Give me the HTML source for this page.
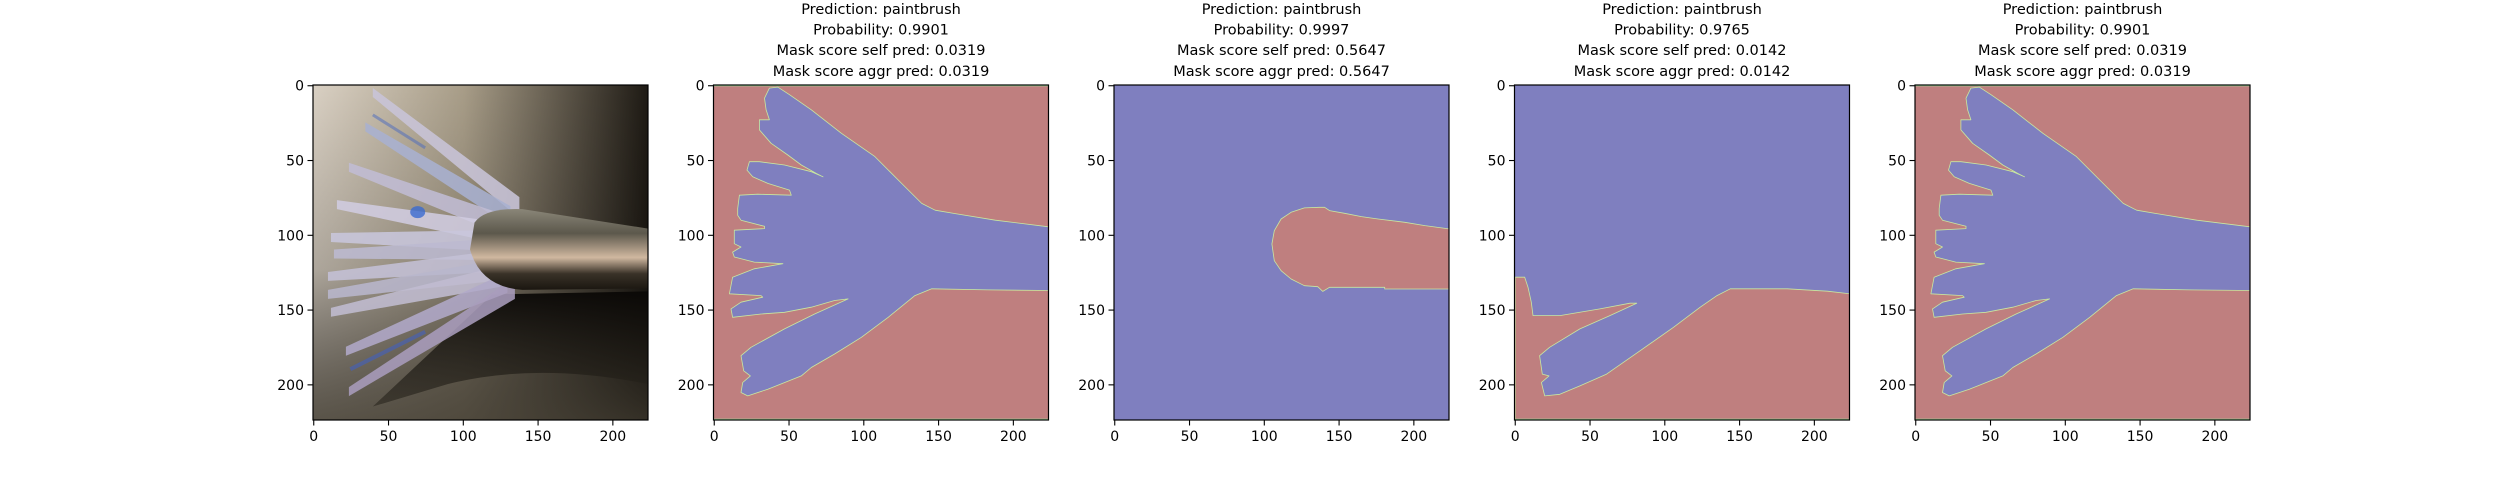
<!DOCTYPE html>
<html><head><meta charset="utf-8"><style>
html,body{margin:0;padding:0;background:#fff;width:2500px;height:500px;overflow:hidden}
svg text{font-family:"DejaVu Sans","Liberation Sans",sans-serif;fill:#000}
</style></head><body>
<svg id="fig" width="2500" height="500" viewBox="0 0 2500 500" xmlns="http://www.w3.org/2000/svg">
<defs>
<linearGradient id="bgH" x1="0" y1="0" x2="1" y2="0"><stop offset="0" stop-color="#d9d0c3"/><stop offset="0.45" stop-color="#a89d88"/><stop offset="1" stop-color="#1e1a14"/></linearGradient>
<linearGradient id="bgV" x1="0" y1="0" x2="0" y2="1"><stop offset="0" stop-color="#000" stop-opacity="0"/><stop offset="0.55" stop-color="#000" stop-opacity="0.2"/><stop offset="1" stop-color="#3a352b" stop-opacity="0.8"/></linearGradient>
<linearGradient id="shadow" x1="0" y1="0" x2="0" y2="1"><stop offset="0" stop-color="#0a0806" stop-opacity="0.95"/><stop offset="1" stop-color="#2a261e" stop-opacity="0.6"/></linearGradient>
<linearGradient id="metal" x1="0" y1="0" x2="0" y2="1"><stop offset="0" stop-color="#8a8678"/><stop offset="0.3" stop-color="#5c584c"/><stop offset="0.6" stop-color="#d0b8a0"/><stop offset="0.8" stop-color="#3a3228"/><stop offset="1" stop-color="#1a1610"/></linearGradient>
</defs>
<g id="panels"></g>
</svg>
<script>
// ---- data (image pixel coordinates, 224x224 images) ----
const imgSize = 224;
const ticks = [0, 50, 100, 150, 200];
const titles = [
  null,
  ["Prediction: paintbrush", "Probability: 0.9901", "Mask score self pred: 0.0319", "Mask score aggr pred: 0.0319"],
  ["Prediction: paintbrush", "Probability: 0.9997", "Mask score self pred: 0.5647", "Mask score aggr pred: 0.5647"],
  ["Prediction: paintbrush", "Probability: 0.9765", "Mask score self pred: 0.0142", "Mask score aggr pred: 0.0142"],
  ["Prediction: paintbrush", "Probability: 0.9901", "Mask score self pred: 0.0319", "Mask score aggr pred: 0.0319"]
];
// hand-shaped mask region (columns)
const handX = [36.9,42.5,50.3,64.9,85.0,107.4,125.3,138.7,147.7,161.1,187.9,224,224,183.4,145.4,134.2,116.3,98.4,80.5,64.9,58.2,35.8,22.4,17.9,19.0,24.2,19.7,17.9,24.6,47.0,67.1,89.5,80.5,64.9,47.0,31.3,12.3,11.2,17.9,32.4,31.3,10.1,12.3,26.8,45.9,26.8,13.4,12.3,17.9,13.4,13.4,33.6,33.6,17.9,15.7,15.7,16.8,29.1,51.5,50.3,35.8,25.7,21.9,23.5,30.2,47.0,64.9,72.7,68.2,58.2,49.2,38.0,30.2,30.2,36.9,34.7,33.6];
// hand-shaped mask region (rows)
const handY = [1.6,0.9,6.0,16.1,31.8,47.4,65.3,78.7,83.2,85.5,89.9,94.4,136.9,136.5,135.8,140.3,154.8,168.2,179.4,188.4,194.0,202.9,207.4,205.1,198.4,194.0,190.6,180.5,174.9,162.6,152.6,142.5,143.6,148.1,151.5,152.6,154.8,149.2,144.7,141.4,140.3,139.1,128.0,122.4,119.0,117.9,114.5,111.2,107.8,105.6,96.6,95.5,94.0,89.9,86.6,82.1,73.2,72.5,73.2,69.8,65.3,60.9,56.4,50.8,50.8,53.0,57.5,60.9,58.6,53.0,46.3,38.5,29.5,22.8,22.8,16.1,8.3];
// blob region (panel 3)
const blobX = [224,207.4,194,176.1,164.9,153.7,143.6,140.3,136.9,126.8,117.9,111.2,106.7,105.1,106.7,111.2,117.9,126.8,135.8,139.1,143.6,180.5,180.5,224];
const blobY = [95.8,93.5,91.3,89.1,87.5,85.3,83.5,81.3,81.3,81.7,84.6,89.1,96.9,105.8,117.0,123.7,129.2,133.7,134.4,137.5,134.8,134.8,135.9,135.9];
// lower region (panel 4)
const lowX = [0,6.3,8.5,10.7,11.9,29.8,56.6,76.7,81.2,63.3,43.2,23.0,16.3,18.1,22.6,17.5,19.7,29.8,43.2,61.1,83.4,105.8,123.7,134.9,143.8,181.9,208.7,224,224,0];
const lowY = [128.0,128.0,134.7,144.7,153.7,153.7,149.2,145.4,145.4,153.7,162.6,174.9,180.5,192.8,194.0,198.4,207.4,206.3,200.7,192.8,177.2,161.5,148.1,140.3,135.8,135.8,137.4,139.1,224,224];

const BLUE = "#7f7fbf", RED = "#bf7f7f";
const NS = "http://www.w3.org/2000/svg";
const panelLeft = [313, 713.5, 1114, 1514.5, 1915];
const top0 = 85, size = 335;
const root = document.getElementById('panels');

function mk(tag, attrs, parent) {
  const e = document.createElementNS(NS, tag);
  for (const k in attrs) e.setAttribute(k, attrs[k]);
  (parent || root).appendChild(e);
  return e;
}
function sx(i, d) { return panelLeft[i] + (d + 0.5) * size / imgSize; }
function sy(d) { return top0 + (d + 0.5) * size / imgSize; }
function poly(i, xs, ys, fill, g, name) {
  const pts = xs.map((x, k) => sx(i, x).toFixed(1) + "," + sy(ys[k]).toFixed(1)).join(" ");
  const p = mk('polygon', {points: pts, fill: fill, stroke: "#c8e8a0", "stroke-width": "0.8", "stroke-linejoin": "round"}, g);
  
  
  return p;
}
function edgeLine(i, row, g) {
  const l = mk('line', {x1: panelLeft[i], x2: panelLeft[i] + size, y1: sy(row), y2: sy(row), stroke: "#9ee09e", "stroke-width": "1.5"}, g);
  
  
}

function drawPhoto(i, g) {
  const x0 = panelLeft[i], y0 = top0;
  const u = size / imgSize;
  const P = (x, y) => `${x0 + x * u},${y0 + y * u}`;
  mk('rect', {x: x0, y: y0, width: size, height: size, fill: "url(#bgH)"}, g);
  mk('rect', {x: x0, y: y0, width: size, height: size, fill: "url(#bgV)"}, g);
  // shadow
  const sh = mk('path', {d: `M${P(40,215)} L${P(120,140)} L${P(224,138)} L${P(224,200)} Q${P(150,185)} ${P(90,200)} Z`, fill: "url(#shadow)"}, g);
  
  
  // bristle fans: tipX, tipY, baseX, baseY, colour
  const fans = [[40,5,138,82,"#c8c4d8"],[35,28,132,88,"#a9b0d0"],[24,55,126,93,"#c0bcd4"],[16,80,120,98,"#d0cce0"],[12,102,118,104,"#c8c6dc"],[14,113,118,110,"#bcbad0"],[10,128,120,118,"#c4c0d6"],[10,140,122,124,"#b8b6cc"],[12,152,125,128,"#c0bcd0"],[22,178,130,132,"#b0a8c8"],[24,205,135,136,"#a89cbc"]];
  fans.forEach(f => {
    const p = mk('path', {d: `M${P(f[0],f[1]-3)} L${P(f[2],f[3]-7)} L${P(f[2],f[3]+7)} L${P(f[0],f[1]+3)} Z`, fill: f[4], opacity: "0.88"}, g);
    
    
  });
  // blue paint marks
  mk('ellipse', {cx: x0+70*u, cy: y0+85*u, rx: 5*u, ry: 4*u, fill: "#3a6ad0", opacity: "0.8"}, g);
  mk('path', {d: `M${P(40,20)} L${P(75,42)}`, stroke: "#4a6ac0", "stroke-width": 3, opacity: "0.5"}, g);
  mk('path', {d: `M${P(25,190)} L${P(75,165)}`, stroke: "#3f60c8", "stroke-width": 4, opacity: "0.55"}, g);
  // ferrule
  const fer = mk('path', {d: `M${P(108,92)} Q${P(115,82)} ${P(140,83)} L${P(224,96)} L${P(224,136)} L${P(140,137)} Q${P(112,135)} ${P(105,110)} Z`, fill: "url(#metal)"}, g);
  
  
}

function drawAxes(i) {
  const g = mk('g', {});
  
  
  const clipId = 'clip' + i;
  const cp = mk('clipPath', {id: clipId}, g);
  mk('rect', {x: panelLeft[i], y: top0, width: size, height: size}, cp);
  const img = mk('g', {'clip-path': `url(#${clipId})`}, g);
  
  
  if (i === 0) drawPhoto(i, img);
  else if (i === 1 || i === 4) {
    mk('rect', {x: panelLeft[i], y: top0, width: size, height: size, fill: RED}, img);
    poly(i, handX, handY, BLUE, img, 'hand-mask-region');
    edgeLine(i, -0.2, img); edgeLine(i, 223.2, img);
  } else if (i === 2) {
    mk('rect', {x: panelLeft[i], y: top0, width: size, height: size, fill: BLUE}, img);
    poly(i, blobX, blobY, RED, img, 'blob-mask-region');
  } else {
    mk('rect', {x: panelLeft[i], y: top0, width: size, height: size, fill: BLUE}, img);
    poly(i, lowX, lowY, RED, img, 'lower-mask-region');
    edgeLine(i, 223.2, img);
  }
  const fr = mk('rect', {x: panelLeft[i], y: top0, width: size, height: size, fill: "none", stroke: "#000", "stroke-width": "1.2"}, g);
  
  
  ticks.forEach(t => {
    const X = sx(i, t), Y = sy(t);
    mk('line', {x1: X, x2: X, y1: top0 + size, y2: top0 + size + 5.5, stroke: "#000", "stroke-width": "1.1"}, g);
    const xl = mk('text', {x: X, y: top0 + size + 21, "font-size": 14, "text-anchor": "middle"}, g);
    xl.textContent = t;
    
    
    mk('line', {x1: panelLeft[i] - 5.5, x2: panelLeft[i], y1: Y, y2: Y, stroke: "#000", "stroke-width": "1.1"}, g);
    const yl = mk('text', {x: panelLeft[i] - 9, y: Y + 5, "font-size": 14, "text-anchor": "end"}, g);
    yl.textContent = t;
    
    
  });
  if (titles[i]) {
    const tt = mk('text', {x: panelLeft[i] + size / 2, y: 14, "font-size": 14.5, "text-anchor": "middle"}, g);
    
    
    titles[i].forEach((line, k) => {
      const ts = mk('tspan', {x: panelLeft[i] + size / 2, y: 14 + k * 20.6}, tt);
      ts.textContent = line;
    });
  }
}
for (let i = 0; i < 5; i++) drawAxes(i);
</script>
</body></html>
